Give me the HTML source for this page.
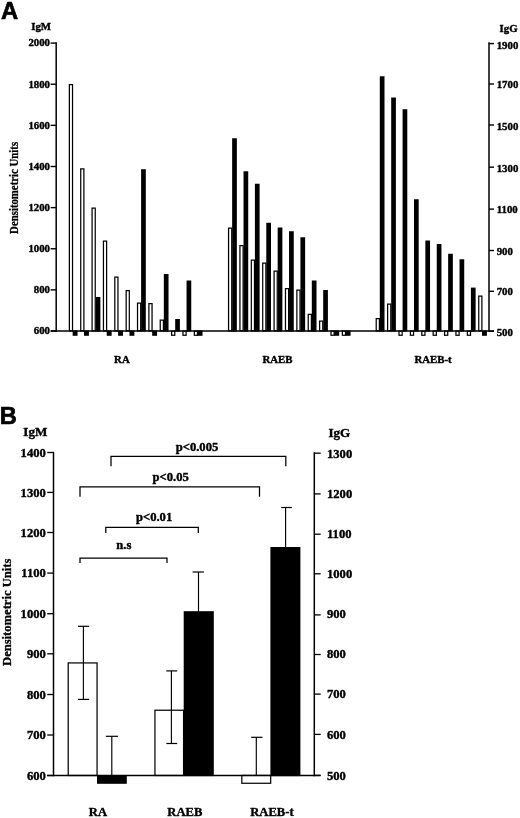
<!DOCTYPE html>
<html><head><meta charset="utf-8"><title>Figure</title>
<style>
html,body{margin:0;padding:0;background:#fff;}
body{width:520px;height:818px;overflow:hidden;font-family:"Liberation Serif",serif;}
svg{display:block;}
</style></head>
<body>
<svg width="520" height="818" viewBox="0 0 520 818">
<defs><filter id="soft" x="0" y="0" width="100%" height="100%" filterUnits="userSpaceOnUse"><feGaussianBlur stdDeviation="0.35"/></filter></defs>
<rect width="520" height="818" fill="#fff"/>
<g filter="url(#soft)">
<rect x="69.38" y="84.62" width="3.15" height="246.25" fill="#fff" stroke="#040404" stroke-width="1.25"/>
<rect x="72.65" y="330.50" width="4.90" height="5.30" fill="#040404"/>
<rect x="80.73" y="168.88" width="3.15" height="162.00" fill="#fff" stroke="#040404" stroke-width="1.25"/>
<rect x="84.01" y="330.50" width="4.90" height="5.30" fill="#040404"/>
<rect x="92.09" y="208.12" width="3.15" height="122.75" fill="#fff" stroke="#040404" stroke-width="1.25"/>
<rect x="95.67" y="297.00" width="4.70" height="34.50" fill="#040404"/>
<rect x="103.45" y="241.12" width="3.15" height="89.75" fill="#fff" stroke="#040404" stroke-width="1.25"/>
<rect x="106.73" y="330.50" width="4.90" height="5.30" fill="#040404"/>
<rect x="114.81" y="277.12" width="3.15" height="53.75" fill="#fff" stroke="#040404" stroke-width="1.25"/>
<rect x="118.09" y="330.50" width="4.90" height="5.30" fill="#040404"/>
<rect x="126.17" y="290.62" width="3.15" height="40.25" fill="#fff" stroke="#040404" stroke-width="1.25"/>
<rect x="129.45" y="330.50" width="4.90" height="5.30" fill="#040404"/>
<rect x="137.53" y="303.12" width="3.15" height="27.75" fill="#fff" stroke="#040404" stroke-width="1.25"/>
<rect x="141.11" y="169.20" width="4.70" height="162.30" fill="#040404"/>
<rect x="148.89" y="303.62" width="3.15" height="27.25" fill="#fff" stroke="#040404" stroke-width="1.25"/>
<rect x="152.17" y="330.50" width="4.90" height="5.30" fill="#040404"/>
<rect x="160.25" y="320.12" width="3.15" height="10.75" fill="#fff" stroke="#040404" stroke-width="1.25"/>
<rect x="163.83" y="274.00" width="4.70" height="57.50" fill="#040404"/>
<rect x="171.62" y="331.12" width="3.15" height="4.15" fill="#fff" stroke="#040404" stroke-width="1.25"/>
<rect x="175.19" y="319.00" width="4.70" height="12.50" fill="#040404"/>
<rect x="182.97" y="331.12" width="3.15" height="4.15" fill="#fff" stroke="#040404" stroke-width="1.25"/>
<rect x="186.55" y="280.50" width="4.70" height="51.00" fill="#040404"/>
<rect x="194.33" y="331.12" width="3.15" height="4.15" fill="#fff" stroke="#040404" stroke-width="1.25"/>
<rect x="197.61" y="330.50" width="4.90" height="5.30" fill="#040404"/>
<rect x="228.57" y="228.12" width="3.15" height="102.75" fill="#fff" stroke="#040404" stroke-width="1.25"/>
<rect x="232.15" y="138.25" width="4.70" height="193.25" fill="#040404"/>
<rect x="239.95" y="245.62" width="3.15" height="85.25" fill="#fff" stroke="#040404" stroke-width="1.25"/>
<rect x="243.53" y="171.25" width="4.70" height="160.25" fill="#040404"/>
<rect x="251.33" y="260.12" width="3.15" height="70.75" fill="#fff" stroke="#040404" stroke-width="1.25"/>
<rect x="254.91" y="183.75" width="4.70" height="147.75" fill="#040404"/>
<rect x="262.71" y="263.12" width="3.15" height="67.75" fill="#fff" stroke="#040404" stroke-width="1.25"/>
<rect x="266.29" y="222.75" width="4.70" height="108.75" fill="#040404"/>
<rect x="274.09" y="271.12" width="3.15" height="59.75" fill="#fff" stroke="#040404" stroke-width="1.25"/>
<rect x="277.67" y="227.50" width="4.70" height="104.00" fill="#040404"/>
<rect x="285.48" y="288.62" width="3.15" height="42.25" fill="#fff" stroke="#040404" stroke-width="1.25"/>
<rect x="289.05" y="231.25" width="4.70" height="100.25" fill="#040404"/>
<rect x="296.86" y="290.12" width="3.15" height="40.75" fill="#fff" stroke="#040404" stroke-width="1.25"/>
<rect x="300.43" y="237.25" width="4.70" height="94.25" fill="#040404"/>
<rect x="308.24" y="314.38" width="3.15" height="16.50" fill="#fff" stroke="#040404" stroke-width="1.25"/>
<rect x="311.81" y="280.50" width="4.70" height="51.00" fill="#040404"/>
<rect x="319.62" y="321.12" width="3.15" height="9.75" fill="#fff" stroke="#040404" stroke-width="1.25"/>
<rect x="323.19" y="290.00" width="4.70" height="41.50" fill="#040404"/>
<rect x="331.00" y="331.12" width="3.15" height="4.15" fill="#fff" stroke="#040404" stroke-width="1.25"/>
<rect x="334.27" y="330.50" width="4.90" height="5.30" fill="#040404"/>
<rect x="342.38" y="331.12" width="3.15" height="4.15" fill="#fff" stroke="#040404" stroke-width="1.25"/>
<rect x="345.65" y="330.50" width="4.90" height="5.30" fill="#040404"/>
<rect x="376.23" y="318.62" width="3.15" height="12.25" fill="#fff" stroke="#040404" stroke-width="1.25"/>
<rect x="379.80" y="76.25" width="4.70" height="255.25" fill="#040404"/>
<rect x="387.62" y="304.12" width="3.15" height="26.75" fill="#fff" stroke="#040404" stroke-width="1.25"/>
<rect x="391.19" y="97.50" width="4.70" height="234.00" fill="#040404"/>
<rect x="399.00" y="331.12" width="3.15" height="4.15" fill="#fff" stroke="#040404" stroke-width="1.25"/>
<rect x="402.58" y="109.25" width="4.70" height="222.25" fill="#040404"/>
<rect x="410.40" y="331.12" width="3.15" height="4.15" fill="#fff" stroke="#040404" stroke-width="1.25"/>
<rect x="413.97" y="199.25" width="4.70" height="132.25" fill="#040404"/>
<rect x="421.79" y="331.12" width="3.15" height="4.15" fill="#fff" stroke="#040404" stroke-width="1.25"/>
<rect x="425.36" y="240.50" width="4.70" height="91.00" fill="#040404"/>
<rect x="433.18" y="331.12" width="3.15" height="4.15" fill="#fff" stroke="#040404" stroke-width="1.25"/>
<rect x="436.75" y="244.00" width="4.70" height="87.50" fill="#040404"/>
<rect x="444.57" y="331.12" width="3.15" height="4.15" fill="#fff" stroke="#040404" stroke-width="1.25"/>
<rect x="448.14" y="253.75" width="4.70" height="77.75" fill="#040404"/>
<rect x="455.96" y="331.12" width="3.15" height="4.15" fill="#fff" stroke="#040404" stroke-width="1.25"/>
<rect x="459.53" y="259.25" width="4.70" height="72.25" fill="#040404"/>
<rect x="467.35" y="331.12" width="3.15" height="4.15" fill="#fff" stroke="#040404" stroke-width="1.25"/>
<rect x="470.92" y="287.60" width="4.70" height="43.90" fill="#040404"/>
<rect x="478.74" y="296.12" width="3.15" height="34.75" fill="#fff" stroke="#040404" stroke-width="1.25"/>
<rect x="482.01" y="330.50" width="4.90" height="5.30" fill="#040404"/>
<line x1="56.20" y1="42.30" x2="56.20" y2="331.70" stroke="#040404" stroke-width="1.5"/>
<line x1="489.00" y1="42.30" x2="489.00" y2="331.70" stroke="#040404" stroke-width="1.5"/>
<line x1="50.70" y1="331.00" x2="494.00" y2="331.00" stroke="#040404" stroke-width="1.4"/>
<line x1="50.60" y1="43.10" x2="56.20" y2="43.10" stroke="#040404" stroke-width="1.4"/>
<line x1="489.00" y1="43.60" x2="494.00" y2="43.60" stroke="#040404" stroke-width="1.4"/>
<text x="50.00" y="45.90" font-family="Liberation Serif" font-weight="bold" font-size="10.8" text-anchor="end" fill="#040404" stroke="#040404" stroke-width="0.4" stroke-linejoin="round">2000</text>
<text x="496.70" y="48.70" font-family="Liberation Serif" font-weight="bold" font-size="10.8" text-anchor="start" fill="#040404" stroke="#040404" stroke-width="0.4" stroke-linejoin="round">1900</text>
<line x1="50.60" y1="84.23" x2="56.20" y2="84.23" stroke="#040404" stroke-width="1.4"/>
<line x1="489.00" y1="84.00" x2="494.00" y2="84.00" stroke="#040404" stroke-width="1.4"/>
<text x="50.00" y="87.53" font-family="Liberation Serif" font-weight="bold" font-size="10.8" text-anchor="end" fill="#040404" stroke="#040404" stroke-width="0.4" stroke-linejoin="round">1800</text>
<text x="496.70" y="87.80" font-family="Liberation Serif" font-weight="bold" font-size="10.8" text-anchor="start" fill="#040404" stroke="#040404" stroke-width="0.4" stroke-linejoin="round">1700</text>
<line x1="50.60" y1="125.36" x2="56.20" y2="125.36" stroke="#040404" stroke-width="1.4"/>
<line x1="489.00" y1="125.00" x2="494.00" y2="125.00" stroke="#040404" stroke-width="1.4"/>
<text x="50.00" y="128.66" font-family="Liberation Serif" font-weight="bold" font-size="10.8" text-anchor="end" fill="#040404" stroke="#040404" stroke-width="0.4" stroke-linejoin="round">1600</text>
<text x="496.70" y="130.10" font-family="Liberation Serif" font-weight="bold" font-size="10.8" text-anchor="start" fill="#040404" stroke="#040404" stroke-width="0.4" stroke-linejoin="round">1500</text>
<line x1="50.60" y1="166.49" x2="56.20" y2="166.49" stroke="#040404" stroke-width="1.4"/>
<line x1="489.00" y1="167.20" x2="494.00" y2="167.20" stroke="#040404" stroke-width="1.4"/>
<text x="50.00" y="169.79" font-family="Liberation Serif" font-weight="bold" font-size="10.8" text-anchor="end" fill="#040404" stroke="#040404" stroke-width="0.4" stroke-linejoin="round">1400</text>
<text x="496.70" y="171.60" font-family="Liberation Serif" font-weight="bold" font-size="10.8" text-anchor="start" fill="#040404" stroke="#040404" stroke-width="0.4" stroke-linejoin="round">1300</text>
<line x1="50.60" y1="207.61" x2="56.20" y2="207.61" stroke="#040404" stroke-width="1.4"/>
<line x1="489.00" y1="209.10" x2="494.00" y2="209.10" stroke="#040404" stroke-width="1.4"/>
<text x="50.00" y="210.91" font-family="Liberation Serif" font-weight="bold" font-size="10.8" text-anchor="end" fill="#040404" stroke="#040404" stroke-width="0.4" stroke-linejoin="round">1200</text>
<text x="496.70" y="213.20" font-family="Liberation Serif" font-weight="bold" font-size="10.8" text-anchor="start" fill="#040404" stroke="#040404" stroke-width="0.4" stroke-linejoin="round">1100</text>
<line x1="50.60" y1="248.74" x2="56.20" y2="248.74" stroke="#040404" stroke-width="1.4"/>
<line x1="489.00" y1="250.50" x2="494.00" y2="250.50" stroke="#040404" stroke-width="1.4"/>
<text x="50.00" y="252.04" font-family="Liberation Serif" font-weight="bold" font-size="10.8" text-anchor="end" fill="#040404" stroke="#040404" stroke-width="0.4" stroke-linejoin="round">1000</text>
<text x="496.70" y="254.60" font-family="Liberation Serif" font-weight="bold" font-size="10.8" text-anchor="start" fill="#040404" stroke="#040404" stroke-width="0.4" stroke-linejoin="round">900</text>
<line x1="50.60" y1="289.87" x2="56.20" y2="289.87" stroke="#040404" stroke-width="1.4"/>
<line x1="489.00" y1="291.30" x2="494.00" y2="291.30" stroke="#040404" stroke-width="1.4"/>
<text x="50.00" y="293.17" font-family="Liberation Serif" font-weight="bold" font-size="10.8" text-anchor="end" fill="#040404" stroke="#040404" stroke-width="0.4" stroke-linejoin="round">800</text>
<text x="496.70" y="295.10" font-family="Liberation Serif" font-weight="bold" font-size="10.8" text-anchor="start" fill="#040404" stroke="#040404" stroke-width="0.4" stroke-linejoin="round">700</text>
<line x1="50.60" y1="331.00" x2="56.20" y2="331.00" stroke="#040404" stroke-width="1.4"/>
<line x1="489.00" y1="331.30" x2="494.00" y2="331.30" stroke="#040404" stroke-width="1.4"/>
<text x="50.00" y="334.30" font-family="Liberation Serif" font-weight="bold" font-size="10.8" text-anchor="end" fill="#040404" stroke="#040404" stroke-width="0.4" stroke-linejoin="round">600</text>
<text x="496.70" y="336.20" font-family="Liberation Serif" font-weight="bold" font-size="10.8" text-anchor="start" fill="#040404" stroke="#040404" stroke-width="0.4" stroke-linejoin="round">500</text>
<text x="31.20" y="30.20" font-family="Liberation Serif" font-weight="bold" font-size="10.8" text-anchor="start" fill="#040404" stroke="#040404" stroke-width="0.4" stroke-linejoin="round">IgM</text>
<text x="499.60" y="31.60" font-family="Liberation Serif" font-weight="bold" font-size="10.8" text-anchor="start" fill="#040404" stroke="#040404" stroke-width="0.4" stroke-linejoin="round">IgG</text>
<text x="121.90" y="362.80" font-family="Liberation Serif" font-weight="bold" font-size="10.8" text-anchor="middle" fill="#040404" stroke="#040404" stroke-width="0.4" stroke-linejoin="round">RA</text>
<text x="277.50" y="362.80" font-family="Liberation Serif" font-weight="bold" font-size="10.8" text-anchor="middle" fill="#040404" stroke="#040404" stroke-width="0.4" stroke-linejoin="round">RAEB</text>
<text x="433.10" y="362.80" font-family="Liberation Serif" font-weight="bold" font-size="10.8" text-anchor="middle" fill="#040404" stroke="#040404" stroke-width="0.4" stroke-linejoin="round">RAEB-t</text>
<text transform="translate(17.8,187.9) rotate(-90) scale(1,1.12)" font-family="Liberation Serif" font-weight="bold" font-size="10.8" text-anchor="middle" fill="#040404" stroke="#040404" stroke-width="0.25" stroke-linejoin="round">Densitometric Units</text>
<text x="0.90" y="18.95" font-family="Liberation Sans" font-weight="bold" font-size="23.8" text-anchor="start" fill="#040404" stroke="#040404" stroke-width="0.7" stroke-linejoin="round">A</text>
<rect x="68.22" y="662.92" width="28.85" height="112.55" fill="#fff" stroke="#040404" stroke-width="1.25"/>
<rect x="97.00" y="775.00" width="29.80" height="8.80" fill="#040404"/>
<rect x="154.93" y="710.23" width="28.65" height="65.25" fill="#fff" stroke="#040404" stroke-width="1.25"/>
<rect x="183.70" y="611.20" width="30.10" height="164.90" fill="#040404"/>
<rect x="241.82" y="775.42" width="28.85" height="7.85" fill="#fff" stroke="#040404" stroke-width="1.25"/>
<rect x="270.40" y="547.00" width="30.00" height="229.10" fill="#040404"/>
<line x1="83.40" y1="626.30" x2="83.40" y2="699.40" stroke="#040404" stroke-width="1.15"/>
<line x1="78.00" y1="626.30" x2="89.20" y2="626.30" stroke="#040404" stroke-width="1.2"/>
<line x1="78.00" y1="699.40" x2="89.20" y2="699.40" stroke="#040404" stroke-width="1.2"/>
<line x1="111.80" y1="736.30" x2="111.80" y2="775.50" stroke="#040404" stroke-width="1.15"/>
<line x1="105.80" y1="736.30" x2="118.00" y2="736.30" stroke="#040404" stroke-width="1.2"/>
<line x1="171.40" y1="670.90" x2="171.40" y2="743.50" stroke="#040404" stroke-width="1.15"/>
<line x1="166.30" y1="670.90" x2="177.20" y2="670.90" stroke="#040404" stroke-width="1.2"/>
<line x1="166.30" y1="743.50" x2="177.20" y2="743.50" stroke="#040404" stroke-width="1.2"/>
<line x1="198.50" y1="572.00" x2="198.50" y2="612.00" stroke="#040404" stroke-width="1.15"/>
<line x1="192.60" y1="572.00" x2="203.90" y2="572.00" stroke="#040404" stroke-width="1.2"/>
<line x1="256.30" y1="737.30" x2="256.30" y2="775.50" stroke="#040404" stroke-width="1.15"/>
<line x1="251.20" y1="737.30" x2="262.50" y2="737.30" stroke="#040404" stroke-width="1.2"/>
<line x1="285.60" y1="507.50" x2="285.60" y2="548.00" stroke="#040404" stroke-width="1.15"/>
<line x1="281.20" y1="507.50" x2="291.80" y2="507.50" stroke="#040404" stroke-width="1.2"/>
<line x1="53.50" y1="451.80" x2="53.50" y2="776.20" stroke="#040404" stroke-width="1.5"/>
<line x1="314.30" y1="452.30" x2="314.30" y2="776.20" stroke="#040404" stroke-width="1.5"/>
<line x1="47.00" y1="775.50" x2="320.50" y2="775.50" stroke="#040404" stroke-width="1.4"/>
<line x1="47.20" y1="452.50" x2="53.50" y2="452.50" stroke="#040404" stroke-width="1.3"/>
<line x1="314.30" y1="453.20" x2="320.70" y2="453.20" stroke="#040404" stroke-width="1.3"/>
<text x="45.80" y="456.80" font-family="Liberation Serif" font-weight="bold" font-size="12.6" text-anchor="end" fill="#040404" stroke="#040404" stroke-width="0.4" stroke-linejoin="round">1400</text>
<text x="327.00" y="457.50" font-family="Liberation Serif" font-weight="bold" font-size="12.6" text-anchor="start" fill="#040404" stroke="#040404" stroke-width="0.4" stroke-linejoin="round">1300</text>
<line x1="47.20" y1="492.40" x2="53.50" y2="492.40" stroke="#040404" stroke-width="1.3"/>
<line x1="314.30" y1="493.90" x2="320.70" y2="493.90" stroke="#040404" stroke-width="1.3"/>
<text x="45.80" y="496.70" font-family="Liberation Serif" font-weight="bold" font-size="12.6" text-anchor="end" fill="#040404" stroke="#040404" stroke-width="0.4" stroke-linejoin="round">1300</text>
<text x="327.00" y="498.20" font-family="Liberation Serif" font-weight="bold" font-size="12.6" text-anchor="start" fill="#040404" stroke="#040404" stroke-width="0.4" stroke-linejoin="round">1200</text>
<line x1="47.20" y1="532.50" x2="53.50" y2="532.50" stroke="#040404" stroke-width="1.3"/>
<line x1="314.30" y1="534.20" x2="320.70" y2="534.20" stroke="#040404" stroke-width="1.3"/>
<text x="45.80" y="536.80" font-family="Liberation Serif" font-weight="bold" font-size="12.6" text-anchor="end" fill="#040404" stroke="#040404" stroke-width="0.4" stroke-linejoin="round">1200</text>
<text x="327.00" y="537.90" font-family="Liberation Serif" font-weight="bold" font-size="12.6" text-anchor="start" fill="#040404" stroke="#040404" stroke-width="0.4" stroke-linejoin="round">1100</text>
<line x1="47.20" y1="573.10" x2="53.50" y2="573.10" stroke="#040404" stroke-width="1.3"/>
<line x1="314.30" y1="573.80" x2="320.70" y2="573.80" stroke="#040404" stroke-width="1.3"/>
<text x="45.80" y="577.40" font-family="Liberation Serif" font-weight="bold" font-size="12.6" text-anchor="end" fill="#040404" stroke="#040404" stroke-width="0.4" stroke-linejoin="round">1100</text>
<text x="327.00" y="577.90" font-family="Liberation Serif" font-weight="bold" font-size="12.6" text-anchor="start" fill="#040404" stroke="#040404" stroke-width="0.4" stroke-linejoin="round">1000</text>
<line x1="47.20" y1="613.70" x2="53.50" y2="613.70" stroke="#040404" stroke-width="1.3"/>
<line x1="314.30" y1="614.90" x2="320.70" y2="614.90" stroke="#040404" stroke-width="1.3"/>
<text x="45.80" y="618.00" font-family="Liberation Serif" font-weight="bold" font-size="12.6" text-anchor="end" fill="#040404" stroke="#040404" stroke-width="0.4" stroke-linejoin="round">1000</text>
<text x="327.00" y="618.20" font-family="Liberation Serif" font-weight="bold" font-size="12.6" text-anchor="start" fill="#040404" stroke="#040404" stroke-width="0.4" stroke-linejoin="round">900</text>
<line x1="47.20" y1="653.80" x2="53.50" y2="653.80" stroke="#040404" stroke-width="1.3"/>
<line x1="314.30" y1="654.50" x2="320.70" y2="654.50" stroke="#040404" stroke-width="1.3"/>
<text x="45.80" y="658.10" font-family="Liberation Serif" font-weight="bold" font-size="12.6" text-anchor="end" fill="#040404" stroke="#040404" stroke-width="0.4" stroke-linejoin="round">900</text>
<text x="327.00" y="658.20" font-family="Liberation Serif" font-weight="bold" font-size="12.6" text-anchor="start" fill="#040404" stroke="#040404" stroke-width="0.4" stroke-linejoin="round">800</text>
<line x1="47.20" y1="694.50" x2="53.50" y2="694.50" stroke="#040404" stroke-width="1.3"/>
<line x1="314.30" y1="694.10" x2="320.70" y2="694.10" stroke="#040404" stroke-width="1.3"/>
<text x="45.80" y="698.80" font-family="Liberation Serif" font-weight="bold" font-size="12.6" text-anchor="end" fill="#040404" stroke="#040404" stroke-width="0.4" stroke-linejoin="round">800</text>
<text x="327.00" y="697.90" font-family="Liberation Serif" font-weight="bold" font-size="12.6" text-anchor="start" fill="#040404" stroke="#040404" stroke-width="0.4" stroke-linejoin="round">700</text>
<line x1="47.20" y1="735.00" x2="53.50" y2="735.00" stroke="#040404" stroke-width="1.3"/>
<line x1="314.30" y1="734.40" x2="320.70" y2="734.40" stroke="#040404" stroke-width="1.3"/>
<text x="45.80" y="739.30" font-family="Liberation Serif" font-weight="bold" font-size="12.6" text-anchor="end" fill="#040404" stroke="#040404" stroke-width="0.4" stroke-linejoin="round">700</text>
<text x="327.00" y="738.70" font-family="Liberation Serif" font-weight="bold" font-size="12.6" text-anchor="start" fill="#040404" stroke="#040404" stroke-width="0.4" stroke-linejoin="round">600</text>
<line x1="47.20" y1="775.50" x2="53.50" y2="775.50" stroke="#040404" stroke-width="1.3"/>
<line x1="314.30" y1="775.40" x2="320.70" y2="775.40" stroke="#040404" stroke-width="1.3"/>
<text x="45.80" y="779.80" font-family="Liberation Serif" font-weight="bold" font-size="12.6" text-anchor="end" fill="#040404" stroke="#040404" stroke-width="0.4" stroke-linejoin="round">600</text>
<text x="327.00" y="780.00" font-family="Liberation Serif" font-weight="bold" font-size="12.6" text-anchor="start" fill="#040404" stroke="#040404" stroke-width="0.4" stroke-linejoin="round">500</text>
<text x="23.30" y="435.80" font-family="Liberation Serif" font-weight="bold" font-size="13.1" text-anchor="start" fill="#040404" stroke="#040404" stroke-width="0.4" stroke-linejoin="round">IgM</text>
<text x="328.40" y="437.00" font-family="Liberation Serif" font-weight="bold" font-size="13.1" text-anchor="start" fill="#040404" stroke="#040404" stroke-width="0.4" stroke-linejoin="round">IgG</text>
<text x="97.90" y="815.60" font-family="Liberation Serif" font-weight="bold" font-size="12.6" text-anchor="middle" fill="#040404" stroke="#040404" stroke-width="0.4" stroke-linejoin="round">RA</text>
<text x="184.80" y="815.60" font-family="Liberation Serif" font-weight="bold" font-size="12.6" text-anchor="middle" fill="#040404" stroke="#040404" stroke-width="0.4" stroke-linejoin="round">RAEB</text>
<text x="271.90" y="815.60" font-family="Liberation Serif" font-weight="bold" font-size="12.6" text-anchor="middle" fill="#040404" stroke="#040404" stroke-width="0.4" stroke-linejoin="round">RAEB-t</text>
<text transform="translate(11.1,612.3) rotate(-90) scale(1,1.05)" font-family="Liberation Serif" font-weight="bold" font-size="12.6" text-anchor="middle" fill="#040404" stroke="#040404" stroke-width="0.3" stroke-linejoin="round">Densitometric Units</text>
<text x="-0.20" y="423.50" font-family="Liberation Sans" font-weight="bold" font-size="23.6" text-anchor="start" fill="#040404" stroke="#040404" stroke-width="0.7" stroke-linejoin="round">B</text>
<polyline points="111.00,466.20 111.00,456.30 285.80,456.30 285.80,466.20" fill="none" stroke="#040404" stroke-width="1.25" stroke-linejoin="miter"/>
<polyline points="80.00,496.80 80.00,486.80 259.50,486.80 259.50,496.80" fill="none" stroke="#040404" stroke-width="1.25" stroke-linejoin="miter"/>
<polyline points="105.80,533.00 105.80,527.30 198.30,527.30 198.30,533.00" fill="none" stroke="#040404" stroke-width="1.25" stroke-linejoin="miter"/>
<polyline points="80.00,563.00 80.00,558.00 167.00,558.00 167.00,563.00" fill="none" stroke="#040404" stroke-width="1.25" stroke-linejoin="miter"/>
<text x="197.00" y="451.30" font-family="Liberation Serif" font-weight="bold" font-size="12.6" text-anchor="middle" fill="#040404" stroke="#040404" stroke-width="0.4" stroke-linejoin="round">p&lt;0.005</text>
<text x="170.70" y="481.30" font-family="Liberation Serif" font-weight="bold" font-size="12.6" text-anchor="middle" fill="#040404" stroke="#040404" stroke-width="0.4" stroke-linejoin="round">p&lt;0.05</text>
<text x="154.10" y="520.80" font-family="Liberation Serif" font-weight="bold" font-size="12.6" text-anchor="middle" fill="#040404" stroke="#040404" stroke-width="0.4" stroke-linejoin="round">p&lt;0.01</text>
<text x="123.80" y="549.40" font-family="Liberation Serif" font-weight="bold" font-size="12.6" text-anchor="middle" fill="#040404" stroke="#040404" stroke-width="0.4" stroke-linejoin="round">n.s</text>
</g>
</svg>
</body></html>
